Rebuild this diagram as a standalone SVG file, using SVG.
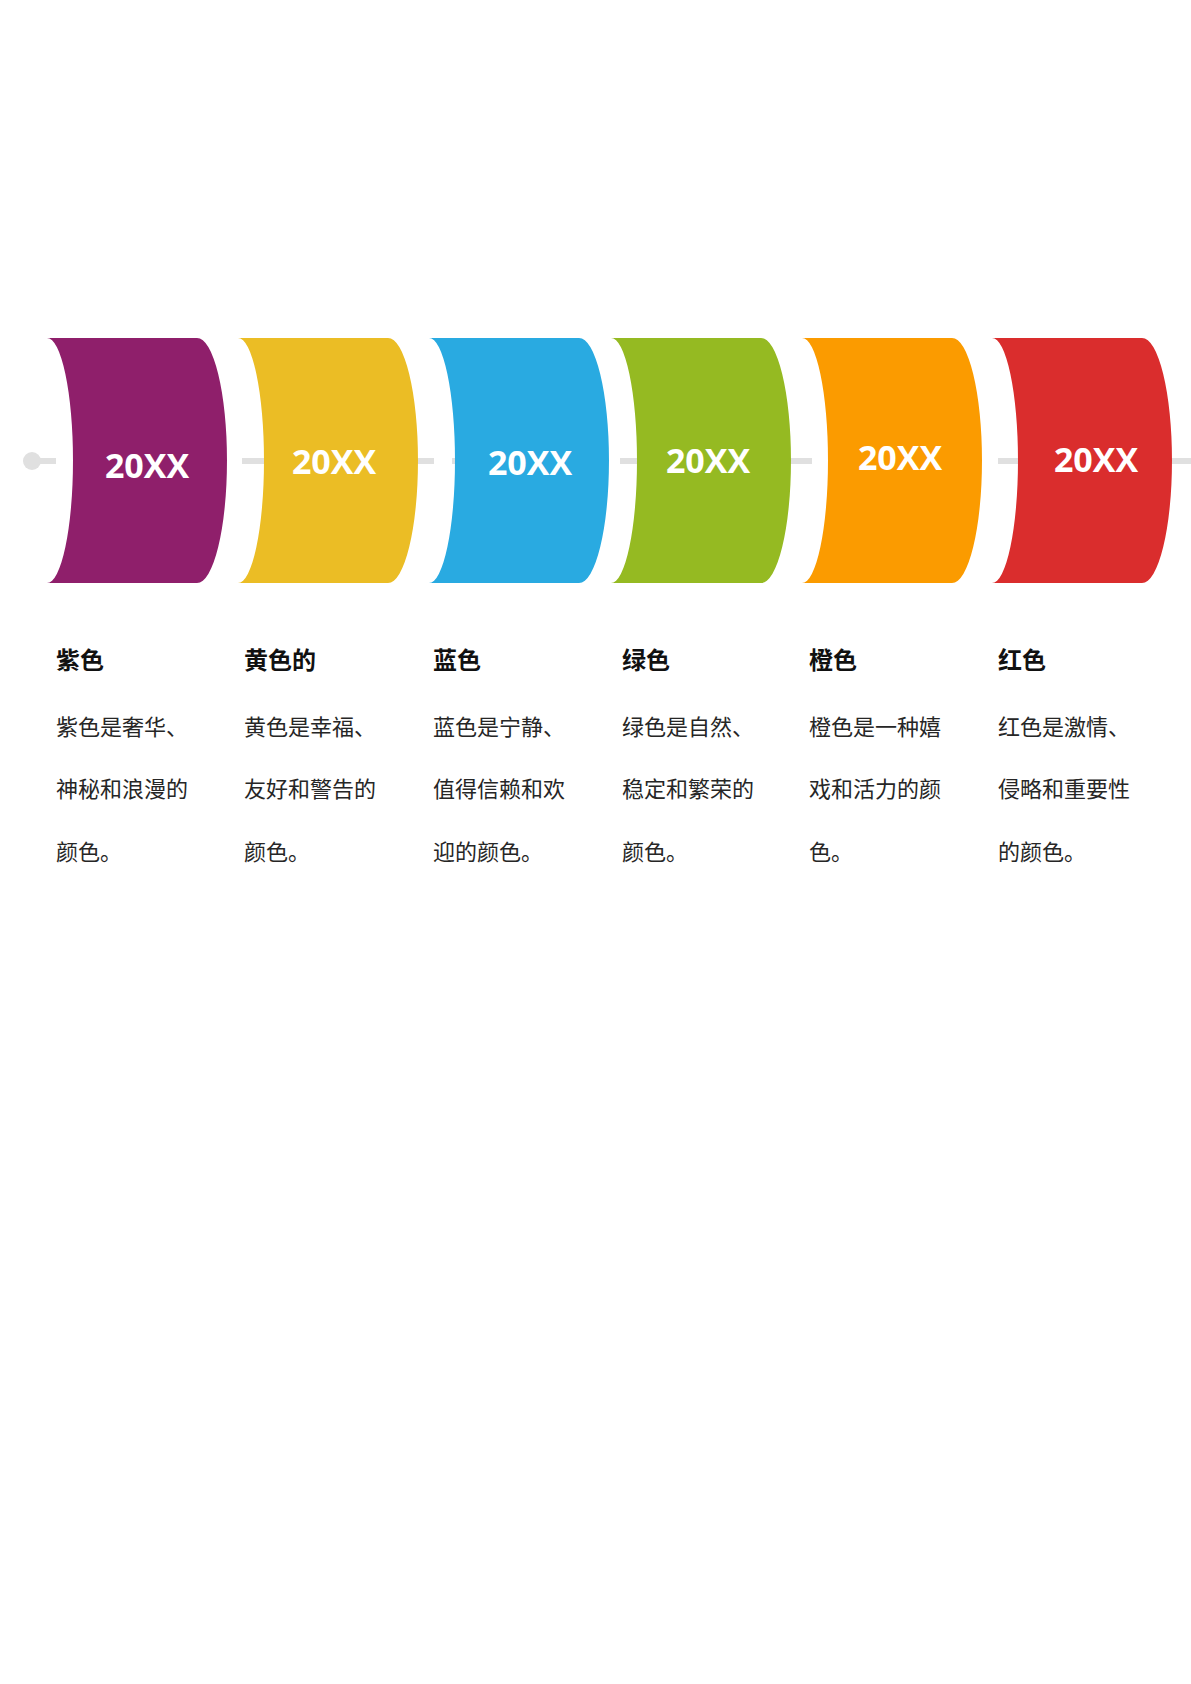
<svg xmlns="http://www.w3.org/2000/svg" width="1191" height="1684" viewBox="0 0 1191 1684">
<style>
.yr{font-family:"Open Sans","Noto Sans",sans-serif;font-weight:700;font-size:34px;fill:#ffffff;text-anchor:middle}
.tt{font-family:"Noto Sans CJK SC",sans-serif;font-weight:700;font-size:24px;fill:#111111}
.bd{font-family:"Noto Sans CJK SC",sans-serif;font-weight:400;font-size:22px;fill:#262626}
.ln{stroke:#E0E0E0;stroke-width:6;fill:none}
</style>
<rect width="1191" height="1684" fill="#ffffff"/>
<g id="connectors">
<circle cx="32" cy="461" r="9" fill="#E0E0E0"/>
<path class="ln" d="M32 461H56M242 461H280M412 461H434M452 461H470M620 461H650M780 461H812M998 461H1030M1160 461H1191"/>
</g>
<g id="node1">
<path d="M47 338H197A30 122.5 0 0 1 197 583H47A26 122.5 0 0 0 47 338Z" fill="#8F1F6B"/>
<text class="yr" x="147" y="478">20XX</text>
</g>
<g id="node2">
<path d="M238 338H388A30 122.5 0 0 1 388 583H238A26 122.5 0 0 0 238 338Z" fill="#EBBD25"/>
<text class="yr" x="334" y="474">20XX</text>
</g>
<g id="node3">
<path d="M429 338H579A30 122.5 0 0 1 579 583H429A26 122.5 0 0 0 429 338Z" fill="#29AAE1"/>
<text class="yr" x="530" y="475">20XX</text>
</g>
<g id="node4">
<path d="M611 338H761A30 122.5 0 0 1 761 583H611A26 122.5 0 0 0 611 338Z" fill="#95BA22"/>
<text class="yr" x="708" y="473">20XX</text>
</g>
<g id="node5">
<path d="M802 338H952A30 122.5 0 0 1 952 583H802A26 122.5 0 0 0 802 338Z" fill="#FB9B00"/>
<text class="yr" x="900" y="470">20XX</text>
</g>
<g id="node6">
<path d="M992 338H1142A30 122.5 0 0 1 1142 583H992A26 122.5 0 0 0 992 338Z" fill="#DA2D2D"/>
<text class="yr" x="1096" y="472">20XX</text>
</g>
<g id="desc1">
<text class="tt" x="56" y="669">紫色</text>
<text class="bd" x="56" y="735">紫色是奢华、</text>
<text class="bd" x="56" y="797">神秘和浪漫的</text>
<text class="bd" x="56" y="860">颜色。</text>
</g>
<g id="desc2">
<text class="tt" x="244" y="669">黄色的</text>
<text class="bd" x="244" y="735">黄色是幸福、</text>
<text class="bd" x="244" y="797">友好和警告的</text>
<text class="bd" x="244" y="860">颜色。</text>
</g>
<g id="desc3">
<text class="tt" x="433" y="669">蓝色</text>
<text class="bd" x="433" y="735">蓝色是宁静、</text>
<text class="bd" x="433" y="797">值得信赖和欢</text>
<text class="bd" x="433" y="860">迎的颜色。</text>
</g>
<g id="desc4">
<text class="tt" x="622" y="669">绿色</text>
<text class="bd" x="622" y="735">绿色是自然、</text>
<text class="bd" x="622" y="797">稳定和繁荣的</text>
<text class="bd" x="622" y="860">颜色。</text>
</g>
<g id="desc5">
<text class="tt" x="809" y="669">橙色</text>
<text class="bd" x="809" y="735">橙色是一种嬉</text>
<text class="bd" x="809" y="797">戏和活力的颜</text>
<text class="bd" x="809" y="860">色。</text>
</g>
<g id="desc6">
<text class="tt" x="998" y="669">红色</text>
<text class="bd" x="998" y="735">红色是激情、</text>
<text class="bd" x="998" y="797">侵略和重要性</text>
<text class="bd" x="998" y="860">的颜色。</text>
</g>
</svg>
